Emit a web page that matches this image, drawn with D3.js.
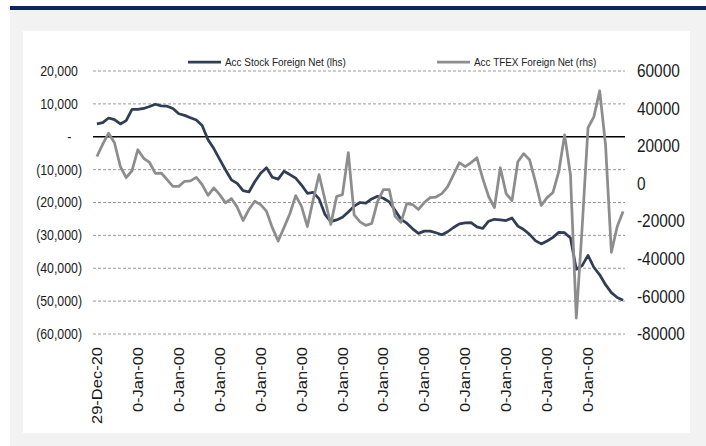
<!DOCTYPE html>
<html><head><meta charset="utf-8">
<script src="https://cdn.jsdelivr.net/npm/d3@7"></script>
<style>body{margin:0;background:#fff}svg{display:block}text{font-family:"Liberation Sans",Arial,sans-serif}</style>
</head><body><svg id="c" width="706" height="446"></svg>
<script>
// ---- data ----
const seriesNames = ["Acc Stock Foreign Net (lhs)", "Acc TFEX Foreign Net (rhs)"];
const stockNet = [3900, 4300, 5700, 5200, 3900, 4900, 8300, 8300, 8600, 9200, 9900, 9400, 9300, 8600, 7000, 6500, 5800, 5100,
  3400, -900, -3600, -6900, -10100, -13100, -14200, -16400, -16800, -13700, -11100, -9400, -12300, -12900, -10500, -11500, -12600, -14700,
  -17200, -16900, -18900, -23600, -25800, -25300, -24500, -22900, -21100, -20000, -20200, -18900, -18100, -18700, -19800, -22400, -25100, -26300,
  -28000, -29400, -28700, -28700, -29200, -29800, -28900, -27600, -26500, -26200, -26100, -27400, -27900, -25700, -25100, -25300, -25500, -24700,
  -27200, -28200, -29700, -31600, -32600, -31700, -30600, -29100, -29200, -30800, -40300, -39200, -36100, -39700, -42000, -45000, -47400, -48900, -49700];
const tfexNet = [14500, 21100, 26900, 21800, 9200, 3200, 6900, 18100, 13500, 11300, 5500, 5700, 2200, -1400, -1400, 1300, 1500, 3400,
  -500, -6200, -2200, -5800, -10200, -7900, -12500, -19600, -13700, -9300, -11100, -14600, -23400, -30500, -23400, -16000, -6300,
  -12100, -22800, -8400, 4800, -8400, -21700, -6800, -5800, 16500, -16600, -20300, -22200, -21200, -9500, -3100, -3100, -17400, -20600, -10600,
  -11100, -13700, -10000, -7400, -7100, -5300, -1500, 4800, 11200, 9100, 11200, 13800, 2700, -6800, -12700, 8500, -5300, -9000,
  11700, 16000, 12800, 1100, -11600, -7400, -4700, 6400, 26000, 4800, -71500, -23300, 29800, 35600, 49400, 20700, -36500, -22800, -14800];
const tickLabels = ["29-Dec-20", "0-Jan-00", "0-Jan-00", "0-Jan-00", "0-Jan-00", "0-Jan-00", "0-Jan-00",
  "0-Jan-00", "0-Jan-00", "0-Jan-00", "0-Jan-00", "0-Jan-00", "0-Jan-00"];
const tickEvery = 7;
const leftTicks = [20000, 10000, 0, -10000, -20000, -30000, -40000, -50000, -60000];
const rightTicks = [60000, 40000, 20000, 0, -20000, -40000, -60000, -80000];

// ---- drawing ----
const svg = d3.select("#c");
const SQ = 0.88;
svg.append("rect").attr("x", 10).attr("y", 10).attr("width", 696).attr("height", 436).attr("fill", "#f2f2f2");
svg.append("rect").attr("x", 10).attr("y", 6).attr("width", 696).attr("height", 4).attr("fill", "#0c2461");
svg.append("rect").attr("x", 23).attr("y", 31).attr("width", 667).attr("height", 402).attr("fill", "#fff");

const idx = d3.range(stockNet.length);
const x = d3.scaleBand().domain(idx).range([94, 626]);
const cx = i => x(i) + x.bandwidth() / 2;
const yL = d3.scaleLinear().domain([-60000, 20000]).range([334, 71]);
const yR = d3.scaleLinear().domain([-80000, 60000]).range([334, 71]);

// gridlines
svg.append("g").selectAll("line").data(leftTicks.filter(v => v !== 0)).join("line")
  .attr("x1", 93).attr("x2", 625).attr("y1", d => yL(d)).attr("y2", d => yL(d))
  .attr("stroke", "#9a9a9a").attr("stroke-width", 1).attr("stroke-dasharray", "3,2");
svg.append("line").attr("x1", 93).attr("x2", 625).attr("y1", yL(0)).attr("y2", yL(0))
  .attr("stroke", "#000").attr("stroke-width", 1.6);

// left axis
const fmtL = v => v === 0 ? "-" : (v < 0 ? "(" + d3.format(",")(-v) + ")" : d3.format(",")(v));
const gL = svg.append("g").attr("transform", "translate(82,0)")
  .call(d3.axisLeft(yL).tickValues(leftTicks).tickSize(0).tickPadding(0).tickFormat(fmtL));
gL.select(".domain").remove();
gL.selectAll("text").attr("font-size", 14).attr("fill", "#1a1a1a").attr("font-family", '"Liberation Sans",Arial,sans-serif')
  .attr("x", d => d === 0 ? -12 : (d > 0 ? -4.7 : 0))
  .attr("transform", `scale(${SQ},1)`);

// right axis
const gR = svg.append("g").attr("transform", "translate(637,0)")
  .call(d3.axisRight(yR).tickValues(rightTicks).tickSize(0).tickPadding(0).tickFormat(v => String(v)));
gR.select(".domain").remove();
gR.selectAll("text").attr("font-size", 17.5).attr("fill", "#1a1a1a").attr("font-family", '"Liberation Sans",Arial,sans-serif')
  .attr("transform", `scale(${SQ},1)`);

// x labels
svg.append("g").selectAll("text").data(tickLabels).join("text")
  .attr("transform", (d, k) => `translate(${cx(k * tickEvery)},347) scale(${SQ},1) rotate(-90)`)
  .attr("text-anchor", "end").attr("dy", "0.35em").attr("font-size", 16.5).attr("fill", "#1a1a1a")
  .text(d => d);

// lines
const navy = "#303d55", grey = "#8d8d8d";
svg.append("path").datum(stockNet)
  .attr("d", d3.line().x((d, i) => cx(i)).y(d => yL(d)))
  .attr("fill", "none").attr("stroke", navy).attr("stroke-width", 2.75).attr("stroke-linejoin", "round");
svg.append("path").datum(tfexNet)
  .attr("d", d3.line().x((d, i) => cx(i)).y(d => yR(d)))
  .attr("fill", "none").attr("stroke", grey).attr("stroke-width", 2.75).attr("stroke-linejoin", "round");

// legend
const legend = [{name: seriesNames[0], color: navy, x: 188}, {name: seriesNames[1], color: grey, x: 437}];
const lg = svg.append("g").selectAll("g").data(legend).join("g").attr("transform", d => `translate(${d.x},62)`);
lg.append("line").attr("x1", 0).attr("x2", 33).attr("y1", 0).attr("y2", 0).attr("stroke", d => d.color).attr("stroke-width", 2.75);
lg.append("text").attr("transform", `translate(37,0) scale(${SQ},1)`).attr("dy", "0.35em")
  .attr("font-size", 11.3).attr("fill", "#222").text(d => d.name);
</script></body></html>
